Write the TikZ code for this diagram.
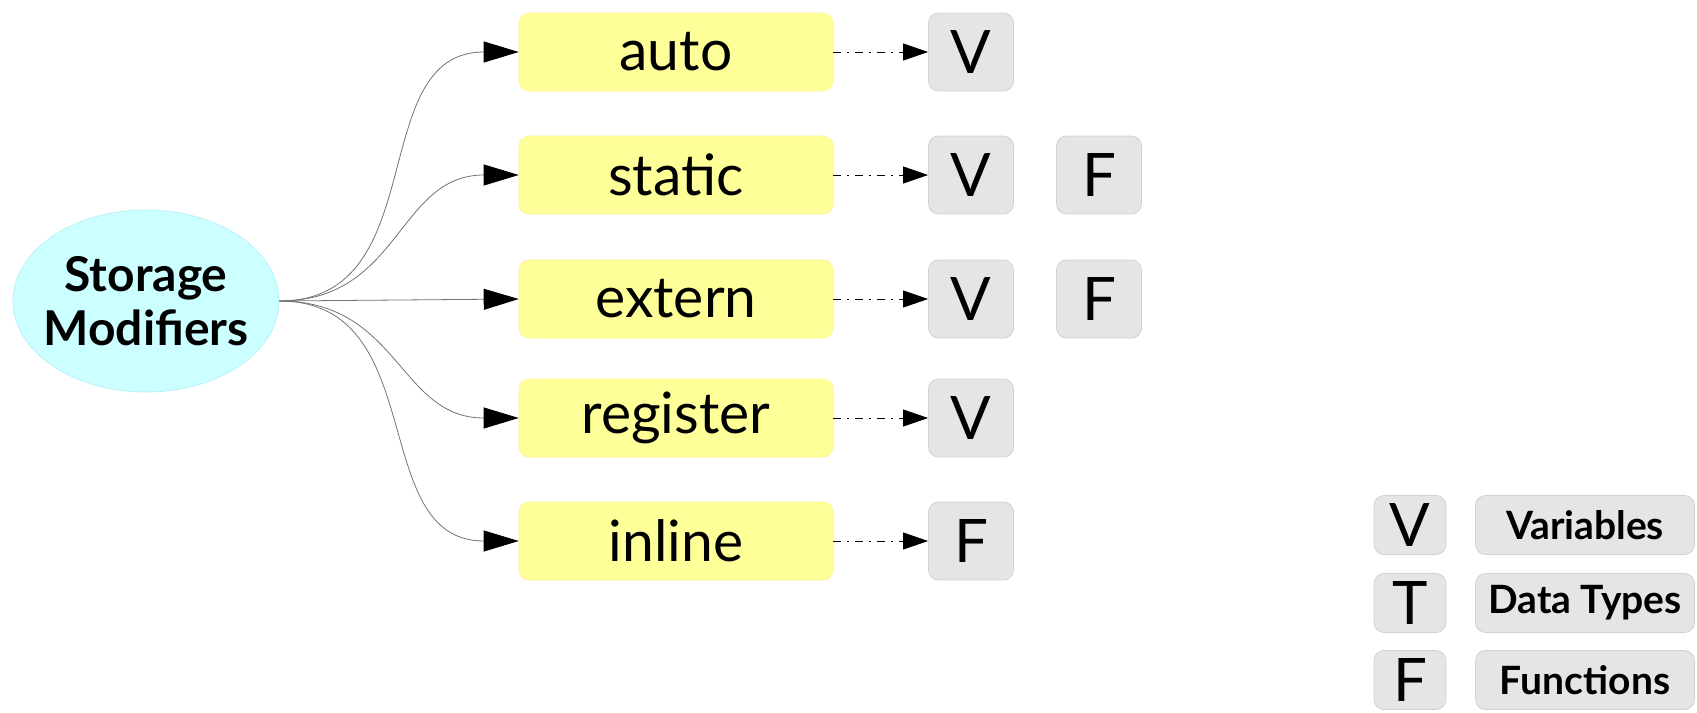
\documentclass[tikz,border=0pt]{standalone}
\usepackage{fontspec}
\setmainfont{Lato}
\usetikzlibrary{arrows.meta,shapes.geometric}
\definecolor{rootfill}{HTML}{CCFFFF}
\definecolor{rootline}{HTML}{B8F0F8}
\definecolor{modfill}{HTML}{FFFF99}
\definecolor{tagfill}{HTML}{E5E5E5}
\definecolor{tagline}{HTML}{D2D2D2}
\tikzset{
  root/.style={ellipse, fill=rootfill, draw=rootline, line width=0.4pt,
    minimum width=133pt, minimum height=91pt, inner xsep=-4.5pt, inner ysep=0pt,
    align=center, font=\fontsize{24}{27}\selectfont\bfseries},
  modbox/.style={rectangle, rounded corners=5pt, fill=modfill, draw=modfill!90!orange,
    line width=0.3pt, minimum width=157pt, minimum height=39pt, inner sep=0pt,
    font=\fontsize{28.5}{32}\selectfont},
  tag/.style={rectangle, rounded corners=5pt, fill=tagfill, draw=tagline,
    line width=0.4pt, minimum width=42.5pt, minimum height=39pt, inner sep=0pt,
    font=\fontsize{30}{32}\selectfont},
  keytag/.style={tag, minimum width=36pt, minimum height=29.5pt},
  keytext/.style={tag, minimum width=109.5pt, minimum height=29.5pt,
    font=\fontsize{19.5}{22}\selectfont\bfseries},
  branch/.style={draw=black!55, line width=0.4pt, looseness=1.15,
    -{Triangle[length=17.5pt,width=10.5pt,color=black]}},
  kind/.style={draw=black, line width=0.4pt, dash pattern=on 4pt off 3pt on 1pt off 3pt,
    -{Triangle[length=12.5pt,width=8.5pt]}}
}
\begin{document}
\begin{tikzpicture}[x=0.5pt,y=-0.5pt]
\useasboundingbox (0,0) rectangle (1697,712);
\node[root] (sm) at (146,301) {Storage\\Modifiers};
\node[modbox] (auto) at (676,52) {auto};
\node[modbox] (static) at (676,175) {static};
\node[modbox] (extern) at (676,299) {extern};
\node[modbox] (register) at (676,418) {register};
\node[modbox] (inline) at (676,541) {inline};
\node[tag] (autoV) at (971,52) {V};
\node[tag] (staticV) at (971,175) {V};
\node[tag] (staticF) at (1099,175) {F};
\node[tag] (externV) at (971,299) {V};
\node[tag] (externF) at (1099,299) {F};
\node[tag] (registerV) at (971,418) {V};
\node[tag] (inlineF) at (971,541) {F};
\draw[branch] (sm.east) to[out=0,in=180] (auto.west);
\draw[branch] (sm.east) to[out=0,in=180] (static.west);
\draw[branch] (sm.east) -- (extern.west);
\draw[branch] (sm.east) to[out=0,in=180] (register.west);
\draw[branch] (sm.east) to[out=0,in=180] (inline.west);
\draw[kind] (auto.east) -- (autoV.west);
\draw[kind] (static.east) -- (staticV.west);
\draw[kind] (extern.east) -- (externV.west);
\draw[kind] (register.east) -- (registerV.west);
\draw[kind] (inline.east) -- (inlineF.west);
% legend
\node[keytag] (keyV) at (1410,525) {V};
\node[keytext] (keyVtext) at (1585,525) {Variables};
\node[keytag] (keyT) at (1410,603) {T};
\node[keytext] (keyTtext) at (1585,603) {Data Types};
\node[keytag] (keyF) at (1410,680) {F};
\node[keytext] (keyFtext) at (1585,680) {Functions};
\end{tikzpicture}
\end{document}
